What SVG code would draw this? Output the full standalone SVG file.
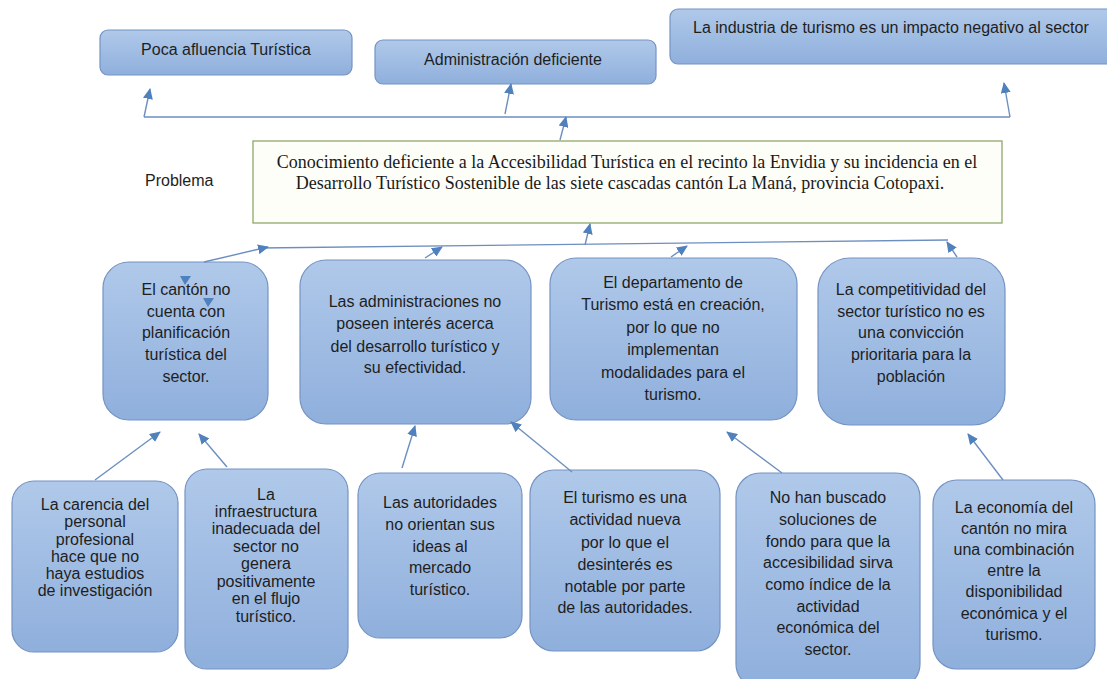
<svg xmlns="http://www.w3.org/2000/svg" width="1107" height="679" viewBox="0 0 1107 679">
<style>
.box{fill:url(#bg);stroke:#7593c3;stroke-width:1.2}
.t{font-family:"Liberation Sans",Arial,sans-serif;font-size:16px;fill:#1e1e1e;text-anchor:middle}
.ts{font-family:"Liberation Serif","Times New Roman",serif;font-size:18px;fill:#1a1a1a;text-anchor:middle}
.c{fill:none;stroke:#6d8fc0;stroke-width:1.4}
.a{marker-end:url(#ah)}
.tri{fill:#4f81bd}
</style>
<defs>
<linearGradient id="bg" x1="0" y1="0" x2="0" y2="1">
<stop offset="0" stop-color="#b0c9ea"/>
<stop offset="1" stop-color="#8fafdc"/>
</linearGradient>
<marker id="ah" markerUnits="userSpaceOnUse" markerWidth="12" markerHeight="10" refX="10" refY="5" orient="auto">
<path d="M0,0 L11,5 L0,10 Z" fill="#4f81bd"/>
</marker>
</defs>
<rect width="1107" height="679" fill="#ffffff"/>

<g id="n-poca">
<rect class="box" x="100" y="30" width="252" height="45" rx="8"/>
<text class="t" x="226" y="55">Poca afluencia Turística</text>
</g>
<g id="n-admin">
<rect class="box" x="375" y="40" width="281" height="44" rx="8"/>
<text class="t" x="513" y="65">Administración  deficiente</text>
</g>
<g id="n-industria">
<rect class="box" x="670" y="9" width="460" height="55" rx="8"/>
<text class="t" x="693" y="33" style="text-anchor:start">La industria de turismo es un impacto negativo al sector</text>
</g>

<g id="n-problema-label">
<text class="t" x="145" y="186" style="text-anchor:start">Problema</text>
</g>
<g id="n-problema">
<rect x="253" y="141" width="749" height="82" fill="#fdfef8" stroke="#8fa86a" stroke-width="1.3"/>
<text class="ts" x="627" y="168">Conocimiento deficiente a la Accesibilidad Turística en el recinto la Envidia y su incidencia en el</text>
<text class="ts" x="620" y="189">Desarrollo Turístico Sostenible de las siete cascadas cantón La Maná, provincia Cotopaxi.</text>
</g>

<g id="n-canton">
<rect class="box" x="103" y="262" width="165" height="158" rx="26"/>
<text class="t" x="186" y="295">El cantón no</text>
<text class="t" x="186" y="317">cuenta con</text>
<text class="t" x="186" y="338">planificación</text>
<text class="t" x="186" y="360">turística del</text>
<text class="t" x="186" y="382">sector.</text>
</g>
<g id="n-administraciones">
<rect class="box" x="300" y="260" width="231" height="164" rx="26"/>
<text class="t" x="415" y="307">Las administraciones no</text>
<text class="t" x="415" y="329">poseen interés acerca</text>
<text class="t" x="415" y="352">del desarrollo turístico y</text>
<text class="t" x="415" y="373">su efectividad.</text>
</g>
<g id="n-departamento">
<rect class="box" x="550" y="258" width="247" height="162" rx="26"/>
<text class="t" x="673" y="288">El departamento de</text>
<text class="t" x="673" y="310">Turismo está en creación,</text>
<text class="t" x="673" y="333">por lo que no</text>
<text class="t" x="673" y="355">implementan</text>
<text class="t" x="673" y="378">modalidades para el</text>
<text class="t" x="673" y="400">turismo.</text>
</g>
<g id="n-competitividad">
<rect class="box" x="818" y="258" width="187" height="167" rx="32"/>
<text class="t" x="911" y="295">La competitividad del</text>
<text class="t" x="911" y="317">sector turístico no es</text>
<text class="t" x="911" y="338">una convicción</text>
<text class="t" x="911" y="360">prioritaria para la</text>
<text class="t" x="911" y="382">población</text>
</g>

<g id="n-carencia">
<rect class="box" x="12" y="481" width="166" height="171" rx="22"/>
<text class="t" x="95" y="510">La carencia del</text>
<text class="t" x="95" y="527">personal</text>
<text class="t" x="95" y="545">profesional</text>
<text class="t" x="95" y="562">hace que no</text>
<text class="t" x="95" y="579">haya estudios</text>
<text class="t" x="95" y="596">de investigación</text>
</g>
<g id="n-infraestructura">
<rect class="box" x="185" y="469" width="163" height="200" rx="22"/>
<text class="t" x="266" y="500">La</text>
<text class="t" x="266" y="517">infraestructura</text>
<text class="t" x="266" y="534">inadecuada del</text>
<text class="t" x="266" y="552">sector no</text>
<text class="t" x="266" y="569">genera</text>
<text class="t" x="266" y="587">positivamente</text>
<text class="t" x="266" y="604">en el flujo</text>
<text class="t" x="266" y="622">turístico.</text>
</g>
<g id="n-autoridades">
<rect class="box" x="358" y="473" width="164" height="165" rx="22"/>
<text class="t" x="440" y="508">Las autoridades</text>
<text class="t" x="440" y="530">no orientan sus</text>
<text class="t" x="440" y="552">ideas al</text>
<text class="t" x="440" y="573">mercado</text>
<text class="t" x="440" y="595">turístico.</text>
</g>
<g id="n-turismo">
<rect class="box" x="530" y="470" width="190" height="181" rx="24"/>
<text class="t" x="625" y="503">El turismo es una</text>
<text class="t" x="625" y="525">actividad nueva</text>
<text class="t" x="625" y="548">por lo que el</text>
<text class="t" x="625" y="570">desinterés es</text>
<text class="t" x="625" y="592">notable por parte</text>
<text class="t" x="625" y="613">de las autoridades.</text>
</g>
<g id="n-nohan">
<rect class="box" x="736" y="473" width="184" height="215" rx="24"/>
<text class="t" x="828" y="503">No han buscado</text>
<text class="t" x="828" y="525">soluciones de</text>
<text class="t" x="828" y="547">fondo para que la</text>
<text class="t" x="828" y="568">accesibilidad sirva</text>
<text class="t" x="828" y="590">como índice de la</text>
<text class="t" x="828" y="612">actividad</text>
<text class="t" x="828" y="633">económica del</text>
<text class="t" x="828" y="655">sector.</text>
</g>
<g id="n-economia">
<rect class="box" x="933" y="480" width="162" height="189" rx="24"/>
<text class="t" x="1014" y="513">La economía del</text>
<text class="t" x="1014" y="534">cantón no mira</text>
<text class="t" x="1014" y="555">una combinación</text>
<text class="t" x="1014" y="576">entre la</text>
<text class="t" x="1014" y="597">disponibilidad</text>
<text class="t" x="1014" y="619">económica y el</text>
<text class="t" x="1014" y="640">turismo.</text>
</g>

<g id="connectors">
<line class="c" x1="144" y1="117" x2="1010" y2="117"/>
<line class="c a" x1="144" y1="117" x2="150" y2="89"/>
<line class="c a" x1="505" y1="114" x2="511" y2="84"/>
<line class="c a" x1="1010" y1="117" x2="1004" y2="83"/>
<line class="c a" x1="560" y1="140" x2="566" y2="117"/>
<line class="c a" x1="585" y1="245" x2="590" y2="224"/>
<polyline class="c" points="260,248 948,240"/>
<line class="c a" x1="204" y1="262" x2="268" y2="247"/>
<line class="c a" x1="425" y1="258" x2="442" y2="247"/>
<line class="c a" x1="671" y1="257" x2="687" y2="246"/>
<line class="c a" x1="957" y1="257" x2="947" y2="242"/>
<line class="c a" x1="95" y1="480" x2="160" y2="432"/>
<line class="c a" x1="227" y1="467" x2="199" y2="434"/>
<line class="c a" x1="402" y1="468" x2="415" y2="426"/>
<line class="c a" x1="572" y1="472" x2="511" y2="422"/>
<line class="c a" x1="782" y1="473" x2="727" y2="432"/>
<line class="c a" x1="1003" y1="480" x2="968" y2="434"/>
<polygon class="tri" points="180,276 191,276 185,285"/>
<polygon class="tri" points="203,298 214,298 208,307"/>
</g>
</svg>
